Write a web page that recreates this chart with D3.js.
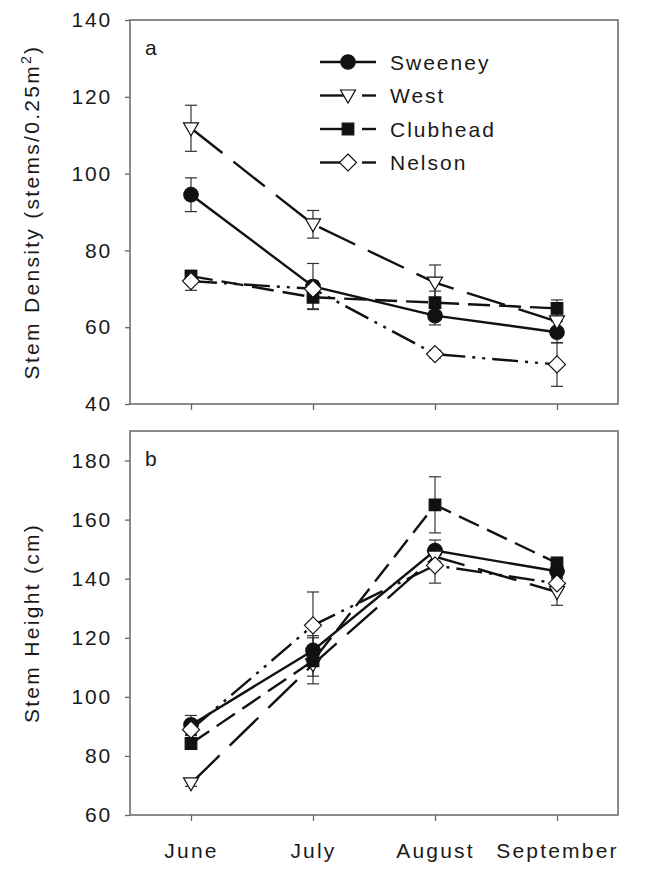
<!DOCTYPE html>
<html>
<head>
<meta charset="utf-8">
<script src="https://cdn.jsdelivr.net/npm/d3@7"></script>
<style>
  body { margin: 0; background: #fff; }
  svg { font-family: "Liberation Sans", Arial, sans-serif; }
</style>
</head>
<body>
<svg id="chart" width="664" height="869"></svg>
<script>
// Mois et sites
const months = ["June", "July", "August", "September"];
const sites = ["Sweeney", "West", "Clubhead", "Nelson"];

// Panneau a : densité (stems/0.25m2)
const densitySweeney = [94.5, 70.6, 63.0, 58.7];
const densitySweeneyErr = [4.4, 6.0, 2.4, 2.8];
const densityWest = [111.8, 86.8, 71.6, 61.5];
const densityWestErr = [6.0, 3.6, 4.6, 2.0];
const densityClubhead = [73.3, 67.8, 66.4, 64.9];
const densityClubheadErr = [1.5, 3.0, 3.0, 2.2];
const densityNelson = [72.0, 70.0, 53.0, 50.3];
const densityNelsonErr = [2.4, 2.0, 1.0, 5.7];

// Panneau b : hauteur (cm)
const heightSweeney = [90.5, 115.7, 149.5, 142.5];
const heightSweeneyErr = [3.2, 5.0, 3.6, 2.0];
const heightWest = [70.7, 111.0, 147.5, 135.5];
const heightWestErr = [1.0, 4.0, 3.0, 4.5];
const heightClubhead = [84.2, 112.2, 165.0, 145.3];
const heightClubheadErr = [2.0, 7.8, 9.5, 2.0];
const heightNelson = [88.9, 124.2, 144.5, 138.4];
const heightNelsonErr = [2.0, 11.3, 6.0, 2.0];

const densityTicks = [40, 60, 80, 100, 120, 140];
const heightTicks = [60, 80, 100, 120, 140, 160, 180];

// Styles des séries
const styles = {
  Sweeney:  { dash: null,             symbol: "circle",   fill: "#111" },
  West:     { dash: "40,14",          symbol: "triangle", fill: "#fff" },
  Clubhead: { dash: "22,9",           symbol: "square",   fill: "#111" },
  Nelson:   { dash: "26,7,3,7,3,7",   symbol: "diamond",  fill: "#fff" }
};

const svg = d3.select("#chart");
const left = 130, right = 618;
const x = d3.scalePoint().domain(months).range([left, right]).padding(0.5);

const frameColor = "#666";
const textColor = "#1a1a1a";

function symbolPath(type) {
  switch (type) {
    case "circle": return d3.symbol(d3.symbolCircle, 165)();
    case "square": return d3.symbol(d3.symbolSquare, 135)();
    case "triangle": return "M-7.5,-5.5L7.5,-5.5L0,7.5Z";
    case "diamond": return "M0,-8.5L8.5,0L0,8.5L-8.5,0Z";
  }
}

function drawPanel(top, bottom, domain, ticks, series, label, yTitle, showX) {
  const y = d3.scaleLinear().domain(domain).range([bottom, top]);
  const g = svg.append("g");

  // Axe Y
  g.append("g")
    .attr("transform", "translate(" + left + ",0)")
    .call(d3.axisLeft(y).tickValues(ticks).tickSize(5).tickPadding(13))
    .call(a => a.select(".domain").remove())
    .call(a => a.selectAll("line").attr("stroke", frameColor).attr("stroke-width", 1.3))
    .call(a => a.selectAll("text")
      .attr("font-size", 21).attr("letter-spacing", 1.8)
      .attr("fill", textColor).attr("font-family", "Liberation Sans, Arial, sans-serif"));

  // Axe X
  const xa = g.append("g")
    .attr("transform", "translate(0," + bottom + ")")
    .call(d3.axisBottom(x).tickSize(6).tickPadding(22))
    .call(a => a.select(".domain").remove())
    .call(a => a.selectAll("line").attr("stroke", frameColor).attr("stroke-width", 1.3));
  if (showX) {
    xa.selectAll("text")
      .attr("font-size", 21).attr("letter-spacing", 2.2)
      .attr("fill", textColor).attr("font-family", "Liberation Sans, Arial, sans-serif");
  } else {
    xa.selectAll("text").remove();
  }

  // Cadre
  g.append("rect")
    .attr("x", left).attr("y", top)
    .attr("width", right - left).attr("height", bottom - top)
    .attr("fill", "none").attr("stroke", frameColor).attr("stroke-width", 1.5);

  // Titre Y
  g.append("text")
    .attr("transform", "translate(39," + ((top + bottom) / 2) + ") rotate(-90)")
    .attr("text-anchor", "middle")
    .attr("font-size", 21).attr("letter-spacing", 2.3)
    .attr("fill", textColor)
    .call(yTitle);

  // Lettre du panneau
  g.append("text")
    .attr("x", left + 15).attr("y", top + 35)
    .attr("font-size", 21).attr("fill", textColor)
    .text(label);

  const line = d3.line().x((d, i) => x(months[i])).y(d => y(d));

  // Lignes
  series.forEach(s => {
    g.append("path")
      .datum(s.values)
      .attr("d", line)
      .attr("fill", "none")
      .attr("stroke", "#111")
      .attr("stroke-width", 2.4)
      .attr("stroke-dasharray", styles[s.name].dash);
  });

  // Barres d'erreur
  series.forEach(s => {
    const eb = g.append("g").attr("stroke", "#333").attr("stroke-width", 1.2);
    s.values.forEach((v, i) => {
      const cx = x(months[i]);
      const y0 = y(v - s.err[i]), y1 = y(v + s.err[i]);
      eb.append("line").attr("x1", cx).attr("x2", cx).attr("y1", y0).attr("y2", y1);
      eb.append("line").attr("x1", cx - 6).attr("x2", cx + 6).attr("y1", y0).attr("y2", y0);
      eb.append("line").attr("x1", cx - 6).attr("x2", cx + 6).attr("y1", y1).attr("y2", y1);
    });
  });

  // Symboles
  series.forEach(s => {
    g.append("g").selectAll("path")
      .data(s.values)
      .join("path")
      .attr("transform", (d, i) => "translate(" + x(months[i]) + "," + y(d) + ")")
      .attr("d", symbolPath(styles[s.name].symbol))
      .attr("fill", styles[s.name].fill)
      .attr("stroke", "#111")
      .attr("stroke-width", 1.2);
  });

  return y;
}

drawPanel(20, 404, [40, 140], densityTicks, [
  { name: "Sweeney", values: densitySweeney, err: densitySweeneyErr },
  { name: "West", values: densityWest, err: densityWestErr },
  { name: "Clubhead", values: densityClubhead, err: densityClubheadErr },
  { name: "Nelson", values: densityNelson, err: densityNelsonErr }
], "a", t => {
  t.append("tspan").text("Stem Density (stems/0.25m");
  t.append("tspan").attr("dy", -8).attr("font-size", 14).text("2");
  t.append("tspan").attr("dy", 8).text(")");
}, false);

drawPanel(431, 815, [60, 190], heightTicks, [
  { name: "Sweeney", values: heightSweeney, err: heightSweeneyErr },
  { name: "West", values: heightWest, err: heightWestErr },
  { name: "Clubhead", values: heightClubhead, err: heightClubheadErr },
  { name: "Nelson", values: heightNelson, err: heightNelsonErr }
], "b", t => t.text("Stem Height (cm)"), true);

// Légende
const legend = svg.append("g").attr("transform", "translate(320,62)");
sites.forEach((name, i) => {
  const row = legend.append("g").attr("transform", "translate(0," + (i * 33.5) + ")");
  const st = styles[name];
  if (st.dash === null) {
    row.append("line").attr("x1", 0).attr("x2", 56).attr("stroke", "#111").attr("stroke-width", 2.4);
  } else {
    row.append("line").attr("x1", 0).attr("x2", 26).attr("stroke", "#111").attr("stroke-width", 2.4);
    row.append("line").attr("x1", 42).attr("x2", 56).attr("stroke", "#111").attr("stroke-width", 2.4);
  }
  row.append("path")
    .attr("transform", "translate(28,0)")
    .attr("d", symbolPath(st.symbol))
    .attr("fill", st.fill).attr("stroke", "#111").attr("stroke-width", 1.2);
  row.append("text")
    .attr("x", 70).attr("y", 7.5)
    .attr("font-size", 21).attr("letter-spacing", 2)
    .attr("fill", textColor)
    .text(name);
});
</script>
</body>
</html>
